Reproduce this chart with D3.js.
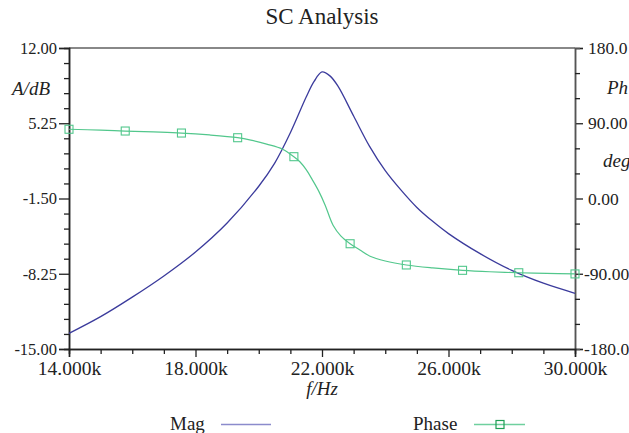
<!doctype html>
<html>
<head>
<meta charset="utf-8"/>
<title>SC Analysis</title>
<script src="https://d3js.org/d3.v7.min.js"></script>
<style>
  body { margin: 0; background: #fff; }
  text { font-family: "Liberation Serif", "DejaVu Serif", serif; fill: #222; }
</style>
</head>
<body>
<script>
// values
var magFreq = [14000, 15000, 16000, 17000, 18000, 19000, 20000, 20500, 21000, 21500, 21750,
               22000, 22250, 22500, 23000, 23500, 24000, 24500, 25000, 25500, 26000, 27000, 28000, 29000, 30000];
var magDb   = [-13.6, -12.1, -10.35, -8.45, -6.3, -3.7, -0.4, 1.65, 4.4, 7.6, 9.0,
               9.85, 9.5, 8.6, 5.9, 3.2, 1.0, -0.75, -2.3, -3.55, -4.65, -6.45, -7.95, -9.1, -10.0];

var phaseFreq = [14000, 15000, 15778, 16667, 17556, 18444, 19333, 19750, 20250, 20750, 21111,
                 21300, 21500, 21700, 21900, 22100, 22350, 22600, 22889, 23200, 23520, 24000,
                 24667, 25500, 26444, 27300, 28222, 29100, 30000];
var phaseDeg  = [82.8, 81.8, 80.7, 79.6, 78.3, 76.0, 72.7, 69.8, 65.0, 59.0, 50.0,
                 44.0, 34.5, 22.0, 8.5, -8.0, -32.0, -45.0, -54.1, -61.6, -69.0, -74.7,
                 -79.5, -83.0, -85.9, -87.6, -88.8, -89.6, -90.2];

var markerFreq = [14000, 15778, 17556, 19333, 21111, 22889, 24667, 26444, 28222, 30000];
var markerDeg  = [82.8, 80.7, 78.3, 72.7, 50.0, -54.1, -79.5, -85.9, -88.8, -90.2];

var xTicks = [14000, 18000, 22000, 26000, 30000];
var xMinor = [15000, 16000, 17000, 19000, 20000, 21000, 23000, 24000, 25000, 27000, 28000, 29000];
var leftTicks = [-15, -8.25, -1.5, 5.25, 12];
var leftMinor = [-13.65, -12.3, -10.95, -9.6, -6.9, -5.55, -4.2, -2.85, -0.15, 1.2, 2.55, 3.9, 6.6, 7.95, 9.3, 10.65];
var rightTicks = [-180, -90, 0, 90, 180];
var rightLabels = ["-180.0", "-90.00", "0.00", "90.00", "180.0"];
var rightMinor = [-150, -120, -60, -30, 30, 60, 120, 150];

var magColor = "#3b3b9c";
var phaseColor = "#52c78c";

var W = 629, H = 433;
var L = 69, R = 575, T = 48, B = 349;

var svg = d3.select("body").append("svg")
    .attr("width", W)
    .attr("height", H);

var x = d3.scaleLinear().domain([14000, 30000]).range([L, R]);
var yL = d3.scaleLinear().domain([-15, 12]).range([B, T]);
var yR = d3.scaleLinear().domain([-180, 180]).range([B, T]);

// title
svg.append("text")
    .attr("x", 322).attr("y", 24)
    .attr("text-anchor", "middle")
    .style("font-size", "23px")
    .text("SC Analysis");

// top border
svg.append("line")
    .attr("x1", L).attr("x2", R).attr("y1", T).attr("y2", T)
    .attr("stroke", "#888").attr("stroke-width", 2);

// left axis
var gl = svg.append("g").attr("transform", "translate(" + L + ",0)");
gl.call(d3.axisLeft(yL).tickValues(leftTicks).tickSize(10).tickPadding(2)
    .tickFormat(function(d){ return d.toFixed(2); }));
gl.append("g").call(d3.axisLeft(yL).tickValues(leftMinor).tickSize(5).tickFormat(""));

// right axis
var gr = svg.append("g").attr("transform", "translate(" + R + ",0)");
gr.call(d3.axisRight(yR).tickValues(rightTicks).tickSize(8).tickPadding(8)
    .tickFormat(function(d, i){ return rightLabels[i]; }));
gr.append("g").call(d3.axisRight(yR).tickValues(rightMinor).tickSize(5).tickFormat(""));
gr.selectAll("text").attr("x", function(d){ return d < 0 ? 9 : 13; });

// bottom axis
var gb = svg.append("g").attr("transform", "translate(0," + B + ")");
gb.call(d3.axisBottom(x).tickValues(xTicks).tickSize(8).tickPadding(4)
    .tickFormat(function(d){ return (d / 1000).toFixed(3) + "k"; }));
gb.append("g").call(d3.axisBottom(x).tickValues(xMinor).tickSize(5).tickFormat(""));

svg.selectAll(".domain").attr("stroke", "#222").attr("stroke-width", 1.5);
gr.selectAll(".domain").attr("stroke", "#555");
svg.selectAll(".tick line").attr("stroke", "#222").attr("stroke-width", 1.3);
gl.selectAll(".tick text").style("font-size", "16.5px").attr("fill", "#222");
gr.selectAll(".tick text").style("font-size", "17.5px").attr("fill", "#222");
gb.selectAll(".tick text").style("font-size", "19.5px").attr("fill", "#222");

// axis titles
svg.append("text").attr("x", 12).attr("y", 95)
    .style("font-size", "19px").style("font-style", "italic").text("A/dB");
svg.append("text").attr("x", 607).attr("y", 94)
    .style("font-size", "19px").style("font-style", "italic").text("Ph");
svg.append("text").attr("x", 603).attr("y", 167)
    .style("font-size", "19px").style("font-style", "italic").text("deg");
svg.append("text").attr("x", 322).attr("y", 395)
    .attr("text-anchor", "middle")
    .style("font-size", "19px").style("font-style", "italic").text("f/Hz");

// curves
var magLine = d3.line()
    .x(function(d, i){ return x(magFreq[i]); })
    .y(function(d){ return yL(d); })
    .curve(d3.curveCatmullRom.alpha(0.5));

svg.append("path")
    .attr("d", magLine(magDb))
    .attr("fill", "none")
    .attr("stroke", magColor)
    .attr("stroke-width", 1.3);

var phaseLine = d3.line()
    .x(function(d, i){ return x(phaseFreq[i]); })
    .y(function(d){ return yR(d); })
    .curve(d3.curveCatmullRom.alpha(0.5));

svg.append("path")
    .attr("d", phaseLine(phaseDeg))
    .attr("fill", "none")
    .attr("stroke", phaseColor)
    .attr("stroke-width", 1.2);

svg.selectAll("rect.mk")
    .data(markerDeg)
    .enter()
    .append("rect")
    .attr("class", "mk")
    .attr("x", function(d, i){ return x(markerFreq[i]) - 4; })
    .attr("y", function(d){ return yR(d) - 4; })
    .attr("width", 8)
    .attr("height", 8)
    .attr("fill", "none")
    .attr("stroke", phaseColor)
    .attr("stroke-width", 1.1);

// legend
svg.append("text").attr("x", 170).attr("y", 430).style("font-size", "19px").text("Mag");
svg.append("line").attr("x1", 221).attr("x2", 271).attr("y1", 424.5).attr("y2", 424.5)
    .attr("stroke", "#8b8bcc").attr("stroke-width", 1.5);
svg.append("text").attr("x", 413).attr("y", 430).style("font-size", "19px").text("Phase");
svg.append("line").attr("x1", 474).attr("x2", 525).attr("y1", 424.5).attr("y2", 424.5)
    .attr("stroke", "#6fd09e").attr("stroke-width", 1.5);
svg.append("rect").attr("x", 496).attr("y", 420.5).attr("width", 8).attr("height", 8)
    .attr("fill", "none").attr("stroke", "#1f9f55").attr("stroke-width", 1.2);
</script>
</body>
</html>
